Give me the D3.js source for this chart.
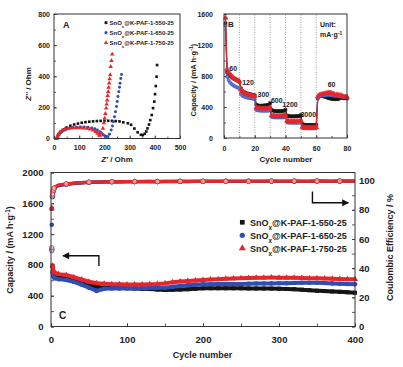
<!DOCTYPE html>
<html>
<head>
<meta charset="utf-8">
<script src="https://cdn.jsdelivr.net/npm/d3@7"></script>
<style>
body { margin: 0; background: #fff; }
svg text { font-family: "Liberation Sans", Arial, sans-serif; font-weight: bold; fill: #222; }
</style>
</head>
<body>
<div id="chart"></div>
<script>
// ---------- data ----------
var sampleNames = ["550-25", "650-25", "750-25"];
var colors = ["#151515", "#2f4db3", "#e5262b"];

// panel A : Nyquist plots  [Z', -Z'']
var eisBlack = [[12,0],[15,14],[20,28],[30,45],[40,58],[50,70],[65,82],[80,90],[95,96],[110,101],[125,105],[140,108],[155,110],[170,112],[185,113],[200,114],[215,114],[230,113],[245,112],[260,110],[275,104],[293,98],[306,88],[319,64],[332,40],[345,24],[352,22],[360,30],[366,45],[371,65],[377,90],[382,118],[388,151],[393,195],[398,237],[401,285],[404,337],[407,397],[409,472]];
var eisBlue = [[12,0],[15,12],[20,25],[28,38],[38,50],[50,60],[62,66],[75,71],[90,73],[105,74],[120,74],[135,72],[150,68],[162,62],[172,54],[181,44],[188,33],[195,24],[201,18],[208,13],[214,12],[220,28],[227,55],[232,80],[236,108],[240,140],[244,172],[248,205],[251,237],[254,270],[257,301],[260,330],[262,355],[265,385],[268,412]];
var eisRed = [[10,0],[13,14],[17,28],[24,42],[32,52],[42,59],[55,64],[70,67],[85,68],[100,68],[115,67],[130,65],[143,60],[155,53],[165,44],[173,33],[179,22],[183,20],[188,35],[194,65],[198,100],[201,130],[204,160],[207,194],[209,220],[211,247],[213,275],[215,301],[217,328],[219,355],[221,382],[223,408],[225,461],[228,500],[231,541]];

// panel B : rate capability, cycles 1..80
var rateCycles = d3.range(1, 81);
var rateBlack = [1480,850,820,800,785,770,760,750,740,725, 640,605,590,580,575,570,565,560,555,550, 430,420,418,416,418,420,422,425,428,450, 360,352,348,346,346,346,347,348,350,365, 290,283,281,280,280,280,281,282,283,295, 180,172,170,168,168,168,167,167,168,170, 515,540,548,542,535,530,522,515,510,505, 502,500,505,500,510,520,518,512,515,510];
var rateBlue = [1450,790,745,715,695,680,668,658,650,640, 565,545,535,528,522,518,514,510,506,502, 362,356,354,352,352,351,351,352,352,360, 272,268,266,265,265,265,265,266,266,275, 202,198,197,196,196,196,196,196,197,205, 130,126,125,124,124,124,124,124,125,128, 520,538,545,548,550,550,552,555,556,552, 548,545,540,542,535,538,530,528,525,522];
var rateRed = [1550,890,850,825,800,780,765,752,742,732, 625,600,585,575,565,560,555,550,545,540, 390,385,383,381,380,380,380,381,382,395, 292,288,286,285,285,285,286,287,288,300, 222,218,216,215,215,215,215,216,216,225, 142,138,136,135,135,134,134,134,135,138, 535,555,562,565,570,575,580,585,583,578, 570,562,555,560,548,552,540,535,532,528];
var rateLabels = ["60", "120", "300", "600", "1200", "3000", "60"];

// panel C : cycling at 60 mA/g
var lifeCycles = [1,2,3,4,5].concat(d3.range(10, 401, 10));
var capBlack = [1530,790,700,665,647, 635,626,600,565,540,517,505,500,497,496, 494,490,486,480,474,476,480,485,490,496, 497,497,496,496,496,495,494,493,492,491, 488,484,478,472,465,460,455,450,445,439];
var capBlue = [1320,700,650,635,626, 615,604,580,545,504,462,490,495,497,496, 495,498,500,502,504,515,525,535,542,548, 550,551,552,552,552,555,557,559,560,561, 563,565,567,568,569,565,560,555,552,548];
var capRed = [1540,790,730,705,700, 680,668,640,610,582,562,555,550,548,546, 545,546,548,552,560,575,585,592,598,604, 610,615,620,624,626,630,632,634,635,634, 633,632,630,628,626,624,620,618,615,613];
var ceBlack = [53,89,92.8,94.5,95.2, 96.7,97.5,98.1,98.5,98.8,99,99.1,99.2,99.2,99.3, 99.3,99.4,99.3,99.4,99.4,99.4,99.5,99.4,99.5,99.5, 99.5,99.5,99.6,99.5,99.5,99.6,99.5,99.6,99.6,99.6, 99.5,99.6,99.6,99.6,99.7,99.6,99.6,99.7,99.6,99.7];
var ceBlue = [52,90,93,94.6,95.3, 96.8,97.6,98.2,98.6,98.9,99.1,99.2,99.3,99.3,99.4, 99.4,99.4,99.5,99.4,99.5,99.5,99.5,99.6,99.5,99.5, 99.6,99.6,99.5,99.6,99.6,99.6,99.5,99.6,99.7,99.6, 99.6,99.7,99.6,99.6,99.7,99.7,99.6,99.7,99.7,99.7];
var ceRed = [54,91,93.5,95,95.6, 97,97.8,98.3,98.7,99,99.1,99.2,99.3,99.3,99.4, 99.4,99.5,99.5,99.4,99.5,99.5,99.6,99.5,99.5,99.6, 99.6,99.5,99.6,99.6,99.6,99.5,99.6,99.6,99.7,99.6, 99.6,99.7,99.6,99.6,99.7,99.7,99.6,99.7,99.7,99.7];

// ---------- helpers ----------
var symbols = [d3.symbolSquare, d3.symbolCircle, d3.symbolTriangle];
var fmt = d3.format("d");

var svg = d3.select("#chart").append("svg")
    .attr("width", 403)
    .attr("height", 367);

function axis(g, ax, tr, fontSize) {
    var a = g.append("g").attr("transform", tr).call(ax);
    a.select(".domain").remove();
    a.selectAll("line").attr("stroke", "#333").attr("stroke-width", 0.8);
    a.selectAll("text").style("font-size", fontSize + "px").style("font-family", "Liberation Sans, Arial").style("font-weight", "bold").attr("fill", "#222");
    return a;
}

function frame(g, x, y) {
    g.append("rect")
        .attr("x", x.range()[0]).attr("y", y.range()[1])
        .attr("width", x.range()[1] - x.range()[0])
        .attr("height", y.range()[0] - y.range()[1])
        .attr("fill", "none").attr("stroke", "#333").attr("stroke-width", 1);
}

// legend text "SnOx@K-PAF-1-xxx"
function sampleText(t, name) {
    t.append("tspan").text("SnO");
    t.append("tspan").text("x").attr("baseline-shift", "sub").style("font-size", "70%");
    t.append("tspan").text("@K-PAF-1-" + name);
}

function capLabel(t) {
    t.append("tspan").text("Capacity / (mA h\u00b7g");
    t.append("tspan").text("-1").attr("baseline-shift", "super").style("font-size", "70%");
    t.append("tspan").text(")");
}

// ---------- panel A ----------
var xA = d3.scaleLinear().domain([0, 500]).range([54, 180]);
var yA = d3.scaleLinear().domain([0, 800]).range([138.5, 14]);
var gA = svg.append("g");

axis(gA, d3.axisBottom(xA).tickValues(d3.range(0, 501, 50)).tickSize(-2).tickFormat(""), "translate(0,138.5)", 7);
axis(gA, d3.axisBottom(xA).tickValues(d3.range(0, 501, 100)).tickSize(-3).tickPadding(7).tickFormat(fmt), "translate(0,138.5)", 7);
axis(gA, d3.axisLeft(yA).tickValues(d3.range(0, 801, 100)).tickSize(-2).tickFormat(""), "translate(54,0)", 7);
axis(gA, d3.axisLeft(yA).tickValues(d3.range(0, 801, 200)).tickSize(-3).tickPadding(4).tickFormat(fmt), "translate(54,0)", 7);

[eisBlack, eisBlue, eisRed].forEach(function (ser, i) {
    gA.append("g").selectAll("path")
        .data(ser)
        .enter()
        .append("path")
        .attr("transform", function (d) { return "translate(" + xA(d[0]) + "," + yA(d[1]) + ")"; })
        .attr("d", d3.symbol().type(symbols[i]).size(i == 2 ? 9 : 7))
        .attr("fill", colors[i]);
});
frame(gA, xA, yA);

gA.append("text").attr("x", 63).attr("y", 28).style("font-size", "9px").text("A");
sampleNames.forEach(function (n, i) {
    var yy = 22.7 + i * 10;
    gA.append("path")
        .attr("transform", "translate(106," + yy + ")")
        .attr("d", d3.symbol().type(symbols[i]).size(8))
        .attr("fill", colors[i]);
    var t = gA.append("text").attr("x", 109.5).attr("y", yy + 2.2).style("font-size", "6px");
    sampleText(t, n);
});
gA.append("text")
    .attr("transform", "translate(31,84) rotate(-90)")
    .attr("text-anchor", "middle").style("font-size", "8px")
    .html("<tspan font-style='italic'>Z''</tspan> / Ohm");
gA.append("text")
    .attr("x", 117).attr("y", 162)
    .attr("text-anchor", "middle").style("font-size", "8px")
    .html("<tspan font-style='italic'>Z'</tspan> / Ohm");

// ---------- panel B ----------
var xB = d3.scaleLinear().domain([0, 80]).range([224, 347]);
var yB = d3.scaleLinear().domain([0, 1600]).range([138, 14]);
var gB = svg.append("g");

gB.append("g").selectAll("line")
    .data(d3.range(10, 61, 10))
    .enter()
    .append("line")
    .attr("x1", function (d) { return xB(d); }).attr("x2", function (d) { return xB(d); })
    .attr("y1", yB(0)).attr("y2", yB(1600))
    .attr("stroke", "#888").attr("stroke-width", 0.8).attr("stroke-dasharray", "1,1.5");

axis(gB, d3.axisBottom(xB).tickValues(d3.range(0, 81, 10)).tickSize(-2).tickFormat(""), "translate(0,138)", 7);
axis(gB, d3.axisBottom(xB).tickValues(d3.range(0, 81, 20)).tickSize(-3).tickPadding(8).tickFormat(fmt), "translate(0,138)", 7);
axis(gB, d3.axisLeft(yB).tickValues(d3.range(0, 1601, 200)).tickSize(-2).tickFormat(""), "translate(224,0)", 7);
axis(gB, d3.axisLeft(yB).tickValues(d3.range(0, 1601, 400)).tickSize(-3).tickPadding(11).tickFormat(fmt), "translate(224,0)", 7);

[rateBlack, rateBlue, rateRed].forEach(function (ser, i) {
    var line = d3.line()
        .x(function (d, j) { return xB(rateCycles[j]); })
        .y(function (d) { return yB(d); });
    gB.append("path").datum(ser)
        .attr("d", line).attr("fill", "none")
        .attr("stroke", colors[i]).attr("stroke-width", 1.2);
    gB.append("g").selectAll("path")
        .data(ser)
        .enter()
        .append("path")
        .attr("transform", function (d, j) { return "translate(" + xB(rateCycles[j]) + "," + yB(d) + ")"; })
        .attr("d", d3.symbol().type(symbols[i]).size(i == 2 ? 10 : 8))
        .attr("fill", i == 1 ? "#6d84d4" : colors[i])
        .attr("stroke", colors[i]).attr("stroke-width", 0.6);
});
frame(gB, xB, yB);

// current density labels
var labelPos = [[6, 900], [15.6, 714], [25.6, 564], [34.3, 490], [42.9, 435], [54.8, 306], [70, 684]];
gB.append("g").selectAll("text")
    .data(rateLabels)
    .enter()
    .append("text")
    .attr("x", function (d, i) { return xB(labelPos[i][0]); })
    .attr("y", function (d, i) { return yB(labelPos[i][1]) + 2.5; })
    .attr("text-anchor", "middle")
    .style("font-size", "7px")
    .text(function (d) { return d; });

gB.append("text").attr("x", 228).attr("y", 27).style("font-size", "8px").text("B");
gB.append("text").attr("x", 320).attr("y", 27).style("font-size", "7px").text("Unit:");
var tu = gB.append("text").attr("x", 320).attr("y", 37).style("font-size", "7px");
tu.append("tspan").text("mA\u00b7g");
tu.append("tspan").text("-1").attr("baseline-shift", "super").style("font-size", "70%");

var tb = gB.append("text")
    .attr("transform", "translate(196,80) rotate(-90)")
    .attr("text-anchor", "middle").style("font-size", "7.5px");
capLabel(tb);
gB.append("text")
    .attr("x", 286).attr("y", 162)
    .attr("text-anchor", "middle").style("font-size", "8px")
    .text("Cycle number");

// ---------- panel C ----------
var xC = d3.scaleLinear().domain([0, 400]).range([51, 355]);
var yC = d3.scaleLinear().domain([0, 2000]).range([326.5, 172.5]);
var yCE = d3.scaleLinear().domain([0, 105.6]).range([326.5, 172.5]);
var gC = svg.append("g");

axis(gC, d3.axisBottom(xC).tickValues(d3.range(0, 401, 50)).tickSize(-3).tickFormat(""), "translate(0,326.5)", 9.5);
axis(gC, d3.axisBottom(xC).tickValues(d3.range(0, 401, 100)).tickSize(-3).tickPadding(10).tickFormat(fmt), "translate(0,326.5)", 9.5);
axis(gC, d3.axisLeft(yC).tickValues(d3.range(0, 2001, 200)).tickSize(-3).tickFormat(""), "translate(51,0)", 9.5);
axis(gC, d3.axisLeft(yC).tickValues(d3.range(0, 2001, 400)).tickSize(-3).tickPadding(7.5).tickFormat(fmt), "translate(51,0)", 9.5);
axis(gC, d3.axisRight(yCE).tickValues(d3.range(0, 101, 10)).tickSize(-3).tickFormat(""), "translate(355,0)", 9.5);
axis(gC, d3.axisRight(yCE).tickValues(d3.range(0, 101, 20)).tickSize(-3).tickPadding(4).tickFormat(fmt), "translate(355,0)", 9.5);

[capBlack, capBlue, capRed].forEach(function (ser, i) {
    gC.append("path").datum(ser.slice(1))
        .attr("d", d3.line().x(function (d, j) { return xC(lifeCycles[j + 1]); }).y(function (d) { return yC(d); }))
        .attr("fill", "none").attr("stroke", colors[i]).attr("stroke-width", 4);
    gC.append("g").selectAll("path")
        .data(ser)
        .enter()
        .append("path")
        .attr("transform", function (d, j) { return "translate(" + xC(lifeCycles[j]) + "," + yC(d) + ")"; })
        .attr("d", d3.symbol().type(symbols[i]).size(16))
        .attr("fill", colors[i]);
});

[ceBlack, ceBlue, ceRed].forEach(function (ser, i) {
    gC.append("path").datum(ser.slice(1))
        .attr("d", d3.line().x(function (d, j) { return xC(lifeCycles[j + 1]); }).y(function (d) { return yCE(d); }))
        .attr("fill", "none").attr("stroke", colors[i]).attr("stroke-width", 3.2);
    gC.append("g").selectAll("path")
        .data(ser.map(function (d, j) { return [lifeCycles[j], d]; })
            .filter(function (d, j) { return j < 3 || j % 3 == 0; }))
        .enter()
        .append("path")
        .attr("transform", function (d) { return "translate(" + xC(d[0]) + "," + yCE(d[1]) + ")"; })
        .attr("d", d3.symbol().type(d3.symbolCircle).size(16))
        .attr("fill", "#fff").attr("fill-opacity", 0.6)
        .attr("stroke", colors[i]).attr("stroke-width", 0.8);
});
frame(gC, xC, yC);

// arrows
var arrowL = [[63, 785], [63, 919], [16, 919]];
var arrowR = [[344, 92.5], [344, 84.9], [391, 84.9]];
gC.append("path")
    .attr("d", d3.line()(arrowL.map(function (p) { return [xC(p[0]), yC(p[1])]; })))
    .attr("fill", "none").attr("stroke", "#111").attr("stroke-width", 1.4);
gC.append("path")
    .attr("d", d3.line()(arrowR.map(function (p) { return [xC(p[0]), yCE(p[1])]; })))
    .attr("fill", "none").attr("stroke", "#111").attr("stroke-width", 1.4);
var hl = [xC(16), yC(919)], hr = [xC(391), yCE(84.9)];
gC.append("path")
    .attr("d", "M" + (hl[0] - 1) + "," + hl[1] + "l7,-3.5v7z").attr("fill", "#111");
gC.append("path")
    .attr("d", "M" + (hr[0] + 1) + "," + hr[1] + "l-7,-3.5v7z").attr("fill", "#111");

gC.append("text").attr("x", 59).attr("y", 319).style("font-size", "10px").text("C");

sampleNames.forEach(function (n, i) {
    var yy = 222.3 + i * 13;
    gC.append("path")
        .attr("transform", "translate(242.3," + yy + ")")
        .attr("d", d3.symbol().type(symbols[i]).size(22))
        .attr("fill", colors[i]);
    var t = gC.append("text").attr("x", 250).attr("y", yy + 3.3).style("font-size", "9px");
    sampleText(t, n);
});

var tc = gC.append("text")
    .attr("transform", "translate(13,250) rotate(-90)")
    .attr("text-anchor", "middle").style("font-size", "9px");
capLabel(tc);
gC.append("text")
    .attr("transform", "translate(393,247.5) rotate(-90)")
    .attr("text-anchor", "middle").style("font-size", "9px")
    .text("Coulombic Efficiency / %");
gC.append("text")
    .attr("x", 202.5).attr("y", 357.5)
    .attr("text-anchor", "middle").style("font-size", "9px")
    .text("Cycle number");
</script>
</body>
</html>
